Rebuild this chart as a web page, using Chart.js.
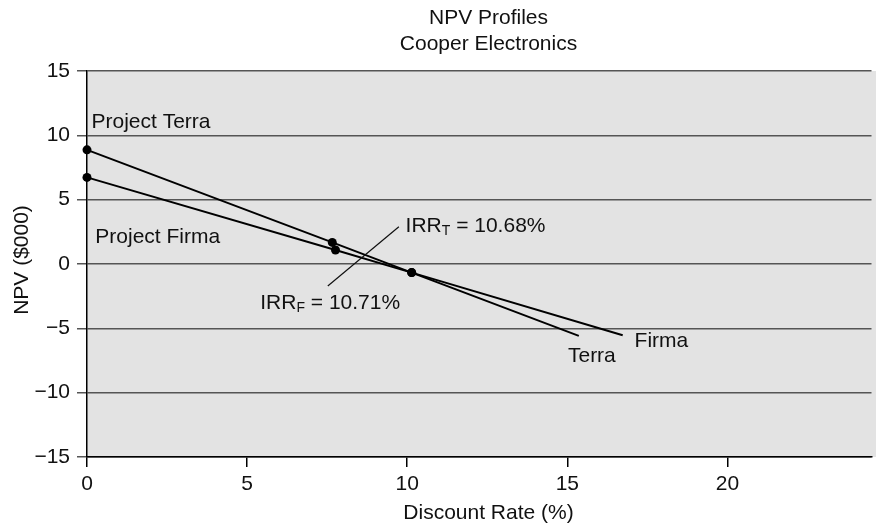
<!DOCTYPE html>
<html>
<head>
<meta charset="utf-8">
<script src="https://cdn.jsdelivr.net/npm/chart.js@4.4.0/dist/chart.umd.min.js"></script>
<style>
  html, body { margin: 0; padding: 0; background: #fff; overflow: hidden; }
  #wrap { width: 876px; height: 527px; position: relative; }
</style>
</head>
<body>
<div id="wrap"><canvas id="npv"></canvas></div>
<script>
// NPV profile values (rate in %, NPV in $000)
const terraRate = [0, 7.66, 10.14, 15.36]
const terraNPV = [8.87, 1.68, -0.67, -5.59]
const firmaRate = [0, 7.76, 10.14, 16.73]
const firmaNPV = [6.73, 1.09, -0.67, -5.54]
// dots only on the first three points of each profile
const dotSize = [4.5, 4.5, 4.5, 0]

const xTicks = [0, 5, 10, 15, 20]
const yTicks = [-15, -10, -5, 0, 5, 10, 15]

const FONT = 'Liberation Sans, Arial, Helvetica, sans-serif'
const INK = '#111'

let toPoints = (xs, ys) => xs.map((x, i) => ({ x: x, y: ys[i] }))

// text labels, placed in data units
const labels = [
   { text: 'Project Terra', x: 0.14, y: 10.58 },
   { text: 'Project Firma', x: 0.26, y: 1.67 },
   { text: 'Terra', x: 15.02, y: -7.59 },
   { text: 'Firma', x: 17.1, y: -6.42 }
]
const irrLabels = [
   { sub: 'T', rest: ' = 10.68%', x: 9.95, y: 2.48 },
   { sub: 'F', rest: ' = 10.71%', x: 5.41, y: -3.52 }
]
const leader = [[9.74, 2.9], [7.52, -1.71]]

const plotBackground = {
   id: 'plotBackground',
   beforeDraw(chart) {
      const a = chart.chartArea
      const ctx = chart.ctx
      ctx.save()
      ctx.fillStyle = '#e3e3e3'
      ctx.fillRect(a.left, a.top, chart.width - a.left, a.bottom - a.top)
      ctx.restore()
   }
}

const notes = {
   id: 'notes',
   afterDatasetsDraw(chart) {
      const ctx = chart.ctx
      const xs = chart.scales.x
      const ys = chart.scales.y
      const a = chart.chartArea
      const mid = (a.left + chart.width) / 2 + 7
      ctx.save()
      ctx.fillStyle = INK
      ctx.strokeStyle = INK
      ctx.textBaseline = 'alphabetic'

      // titles
      ctx.font = '21px ' + FONT
      ctx.textAlign = 'center'
      ctx.fillText('NPV Profiles', mid, 24)
      ctx.fillText('Cooper Electronics', mid, 50)
      ctx.fillText('Discount Rate (%)', mid, 519)

      ctx.save()
      ctx.translate(22, 260)
      ctx.rotate(-Math.PI / 2)
      ctx.textBaseline = 'middle'
      ctx.fillText('NPV ($000)', 0, 0)
      ctx.restore()

      // in-plot labels
      ctx.textAlign = 'left'
      labels.forEach(l => {
         ctx.fillText(l.text, xs.getPixelForValue(l.x), ys.getPixelForValue(l.y))
      })

      irrLabels.forEach(l => {
         let px = xs.getPixelForValue(l.x)
         let py = ys.getPixelForValue(l.y)
         ctx.font = '21px ' + FONT
         ctx.fillText('IRR', px, py)
         px += ctx.measureText('IRR').width
         ctx.font = '14px ' + FONT
         ctx.fillText(l.sub, px, py + 2.5)
         px += ctx.measureText(l.sub).width
         ctx.font = '21px ' + FONT
         ctx.fillText(l.rest, px, py)
      })

      // leader line between the two IRR labels
      ctx.lineWidth = 1.2
      ctx.beginPath()
      ctx.moveTo(xs.getPixelForValue(leader[0][0]), ys.getPixelForValue(leader[0][1]))
      ctx.lineTo(xs.getPixelForValue(leader[1][0]), ys.getPixelForValue(leader[1][1]))
      ctx.stroke()
      ctx.restore()
   }
}

const ctx = document.getElementById('npv').getContext('2d')
const npvChart = new Chart(ctx, {
   type: 'scatter',
   data: {
      datasets: [
         {
            label: 'Terra',
            data: toPoints(terraRate, terraNPV),
            showLine: true,
            clip: false,
            borderColor: '#000',
            backgroundColor: '#000',
            borderWidth: 2,
            pointRadius: dotSize,
            pointBorderWidth: 0
         },
         {
            label: 'Firma',
            data: toPoints(firmaRate, firmaNPV),
            showLine: true,
            clip: false,
            borderColor: '#000',
            backgroundColor: '#000',
            borderWidth: 2,
            pointRadius: dotSize,
            pointBorderWidth: 0
         }
      ]
   },
   options: {
      responsive: true,
      maintainAspectRatio: false,
      animation: false,
      layout: { padding: { top: 71, left: 0, right: -4, bottom: 0 } },
      plugins: {
         legend: { display: false },
         title: { display: false },
         tooltip: { enabled: false }
      },
      scales: {
         x: {
            type: 'linear',
            min: 0,
            max: 24.5,
            afterBuildTicks: (scale) => { scale.ticks = xTicks.map(v => ({ value: v })) },
            afterFit: (scale) => { scale.height = 70 },
            border: { display: true, color: '#000', width: 1.5 },
            grid: { drawOnChartArea: false, drawTicks: true, tickLength: 10, color: '#000', lineWidth: 1.5 },
            ticks: { color: INK, font: { family: FONT, size: 21 }, padding: 5, maxRotation: 0 }
         },
         y: {
            min: -15,
            max: 15,
            afterBuildTicks: (scale) => { scale.ticks = yTicks.map(v => ({ value: v })) },
            afterFit: (scale) => { scale.width = 87 },
            border: { display: true, color: '#000', width: 1.5 },
            grid: { color: '#555', lineWidth: 1.5, tickLength: 10, drawTicks: true },
            ticks: {
               color: INK,
               font: { family: FONT, size: 21 },
               padding: 7,
               callback: (v) => String(v).replace('-', '\u2212')
            }
         }
      }
   },
   plugins: [plotBackground, notes]
})
</script>
</body>
</html>
